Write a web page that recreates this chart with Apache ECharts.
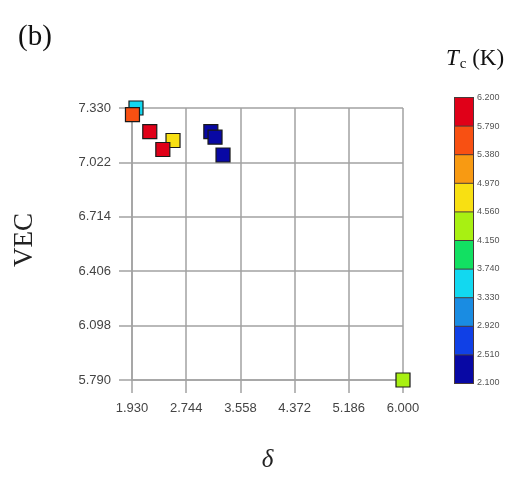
<!DOCTYPE html>
<html>
<head>
<meta charset="utf-8">
<script src="https://cdn.jsdelivr.net/npm/echarts@6/dist/echarts.min.js"></script>
<style>
  html, body { margin: 0; padding: 0; background: #fff; }
  #chart { width: 524px; height: 489px; }
</style>
</head>
<body>
<div id="chart"></div>
<script>
// data
const deltaValues = [1.990, 1.937, 2.197, 2.546, 2.393, 3.114, 3.177, 3.297, 6.000]
const vecValues = [7.330, 7.292, 7.196, 7.146, 7.095, 7.196, 7.165, 7.064, 5.790]
const tcValues = [3.50, 5.55, 6.00, 4.80, 6.00, 2.20, 2.20, 2.20, 4.30]
// tick labels
const xTicks = [1.930, 2.744, 3.558, 4.372, 5.186, 6.000]
const yTicks = [5.790, 6.098, 6.406, 6.714, 7.022, 7.330]
const tcTicks = [2.100, 2.510, 2.920, 3.330, 3.740, 4.150, 4.560, 4.970, 5.380, 5.790, 6.200]
const tcColors = ['#0808a4', '#1040e6', '#1a8ce2', '#12d8f0', '#12e062',
  '#a8f012', '#f8e012', '#f89a12', '#f85012', '#e00018']

const points = deltaValues.map((d, i) => [d, vecValues[i], tcValues[i]])
const pieces = tcColors.map((c, i) => ({ gte: tcTicks[i], lt: tcTicks[i + 1], color: c }))

const gridColor = '#a2a2a2'
const serif = 'Liberation Serif'
const chart = echarts.init(document.getElementById('chart'))
const option = {
  animation: false,
  title: [
    {
      text: '(b)',
      left: 13,
      top: 18,
      textStyle: { fontFamily: serif, fontSize: 29, fontWeight: 'normal', color: '#111' }
    },
    {
      text: '{t|T}{s|c}{k| (K)}',
      left: 441,
      top: 40,
      textStyle: {
        rich: {
          t: { fontFamily: serif, fontStyle: 'italic', fontWeight: 'normal', fontSize: 23, color: '#111' },
          s: { fontFamily: serif, fontWeight: 'normal', fontSize: 15, color: '#111', padding: [12, 0, 0, 1] },
          k: { fontFamily: serif, fontWeight: 'normal', fontSize: 23, color: '#111' }
        }
      }
    }
  ],
  grid: [
    { left: 132, top: 108, width: 271, height: 272 },
    { left: 455, top: 98, width: 18, height: 285 }
  ],
  xAxis: [
    {
      type: 'value',
      min: 1.93,
      max: 6.0,
      name: 'δ',
      nameLocation: 'middle',
      nameGap: 68,
      nameTextStyle: { fontFamily: serif, fontStyle: 'italic', fontSize: 25, color: '#222' },
      axisLine: { show: true, lineStyle: { color: gridColor, width: 1.5 } },
      axisTick: { show: true, length: 13, customValues: xTicks, lineStyle: { color: gridColor, width: 1.5 } },
      axisLabel: {
        customValues: xTicks,
        margin: 22,
        fontFamily: 'Liberation Sans',
        fontSize: 13,
        color: '#444',
        formatter: (v) => v.toFixed(3)
      },
      splitLine: { show: true, lineStyle: { color: gridColor, width: 1.5 } }
    },
    { gridIndex: 1, type: 'value', show: false, min: 0, max: 1 }
  ],
  yAxis: [
    {
      type: 'value',
      min: 5.79,
      max: 7.33,
      name: 'VEC',
      nameLocation: 'middle',
      nameGap: 94,
      nameTextStyle: { fontFamily: serif, fontSize: 27, color: '#222', padding: [0, 0, 0, 8] },
      axisLine: { show: true, lineStyle: { color: gridColor, width: 1.5 } },
      axisTick: { show: true, length: 13, customValues: yTicks, lineStyle: { color: gridColor, width: 1.5 } },
      axisLabel: {
        customValues: yTicks,
        margin: 21,
        fontFamily: 'Liberation Sans',
        fontSize: 13,
        color: '#444',
        formatter: (v) => v.toFixed(3)
      },
      splitLine: { show: true, lineStyle: { color: gridColor, width: 1.5 } }
    },
    {
      gridIndex: 1,
      type: 'value',
      position: 'right',
      min: 2.1,
      max: 6.2,
      axisLine: { show: false },
      axisTick: { show: false },
      splitLine: { show: false },
      axisLabel: {
        customValues: tcTicks,
        margin: 4,
        fontFamily: 'Liberation Sans',
        fontSize: 9,
        color: '#555',
        formatter: (v) => v.toFixed(3)
      }
    }
  ],
  visualMap: {
    type: 'piecewise',
    dimension: 2,
    seriesIndex: 0,
    pieces: pieces,
    orient: 'vertical',
    left: 454,
    top: 97,
    itemWidth: 18,
    itemHeight: 27.6,
    itemGap: 1,
    itemSymbol: 'rect',
    showLabel: false,
    selectedMode: false,
    hoverLink: false,
    backgroundColor: '#4a3a3a',
    padding: 1
  },
  series: [
    {
      type: 'scatter',
      data: points,
      symbol: 'rect',
      symbolSize: 14,
      itemStyle: { borderColor: '#1a1a1a', borderWidth: 1.2, opacity: 1 }
    }
  ]
}
chart.setOption(option)
</script>
</body>
</html>
